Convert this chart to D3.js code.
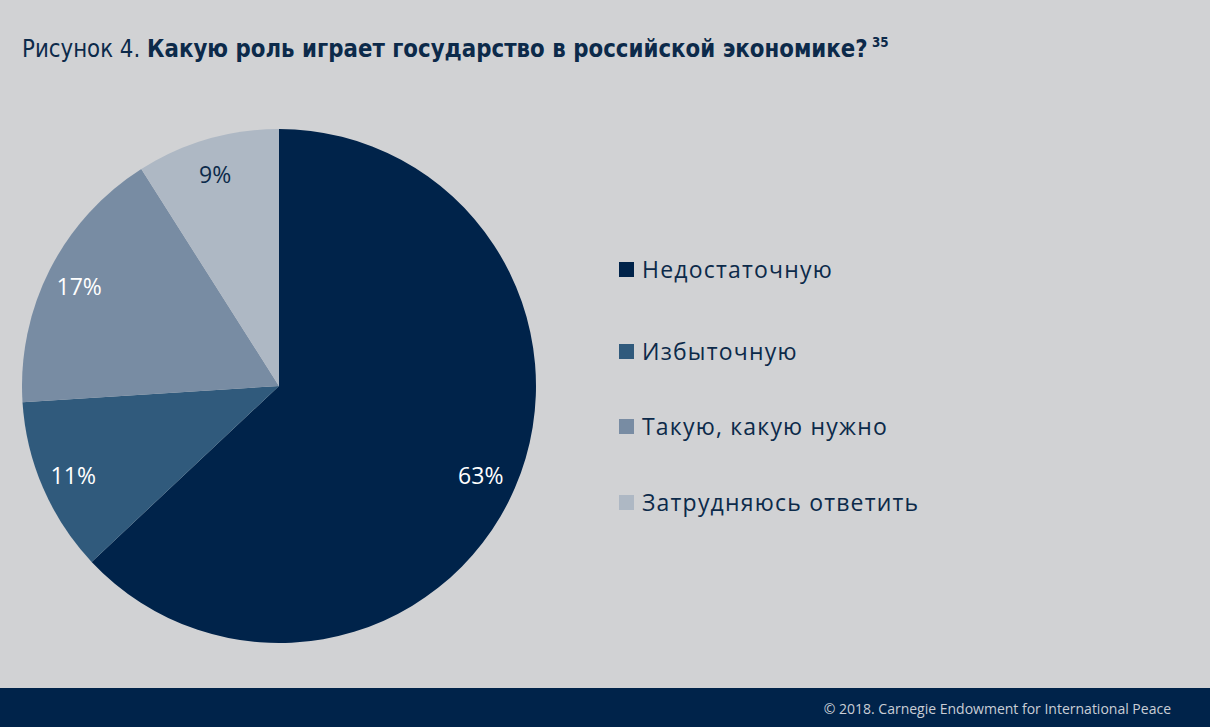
<!DOCTYPE html>
<html>
<head>
<meta charset="utf-8">
<script src="https://cdn.jsdelivr.net/npm/d3@7"></script>
<style>
  body { margin: 0; background: #d1d2d4; }
  svg { display: block; }
</style>
</head>
<body>
<svg id="chart"></svg>
<script>
'use strict';
// Chart data
var categories = ['Недостаточную', 'Избыточную', 'Такую, какую нужно', 'Затрудняюсь ответить'];
var values = [63, 11, 17, 9];
var labels = ['63%', '11%', '17%', '9%'];
var colors = ['#00234a', '#305a7c', '#788ca3', '#aeb8c4'];
var labelColors = ['#ffffff', '#ffffff', '#ffffff', '#0c2a4a'];

var canvasWidth = 1210;
var canvasHeight = 727;
var svg = d3.select('#chart')
  .attr('width', canvasWidth)
  .attr('height', canvasHeight);

svg.append('rect')
  .attr('width', canvasWidth)
  .attr('height', canvasHeight)
  .attr('fill', '#d1d2d4');

// Title (font is a bit wide, so squeeze it horizontally)
var title = svg.append('text')
  .attr('transform', 'translate(22,57) scale(0.95,1)')
  .attr('fill', '#0c2a4a')
  .style('font-family', '"Liberation Sans Narrow", "DejaVu Sans Condensed", sans-serif')
  .style('font-size', '25px');
title.append('tspan').style('font-weight', 300).text('Рисунок 4. ');
title.append('tspan').style('font-weight', 'bold').text('Какую роль играет государство в российской экономике?');
title.append('tspan').style('font-weight', 'bold').style('font-size', '14px')
  .attr('dy', -10).text(' 35');

// Pie
var cx = 279, cy = 386, radius = 257;
var pie = d3.pie().sort(null).value(function(d) { return d; });
var arc = d3.arc().innerRadius(0).outerRadius(radius);
var labelArc = d3.arc().innerRadius(222).outerRadius(222);
var arcs = pie(values);

var pieArea = svg.append('g')
  .attr('transform', 'translate(' + cx + ',' + cy + ')');

pieArea.selectAll('path').data(arcs)
  .enter().append('path')
  .attr('d', arc)
  .attr('fill', function(d, i) { return colors[i]; });

pieArea.selectAll('text.lbl').data(arcs)
  .enter().append('text')
  .attr('class', 'lbl')
  .attr('transform', function(d) {
    var c = labelArc.centroid(d);
    return 'translate(' + (c[0] - 2) + ',' + (c[1] + 2) + ')';
  })
  .attr('text-anchor', 'middle')
  .attr('dy', '0.36em')
  .attr('fill', function(d, i) { return labelColors[i]; })
  .style('font-family', '"Open Sans", "Noto Sans", sans-serif')
  .style('font-size', '23px')
  .text(function(d, i) { return labels[i]; });

// Legend
var legendY = d3.scaleOrdinal().domain(categories).range([270, 352, 427, 503]);
var legend = svg.append('g');
var items = legend.selectAll('g').data(categories)
  .enter().append('g')
  .attr('transform', function(d) { return 'translate(619,' + legendY(d) + ')'; });
items.append('rect')
  .attr('x', 0).attr('y', -8)
  .attr('width', 15).attr('height', 15)
  .attr('fill', function(d, i) { return colors[i]; });
items.append('text')
  .attr('x', 23)
  .attr('dy', '0.36em')
  .attr('fill', '#0c2a4a')
  .style('font-family', '"Open Sans", "Noto Sans", sans-serif')
  .style('font-size', '23px')
  .style('letter-spacing', '1.2px')
  .text(function(d) { return d; });

// Footer bar
svg.append('rect')
  .attr('x', 0).attr('y', 688)
  .attr('width', canvasWidth).attr('height', canvasHeight - 688)
  .attr('fill', '#00234a');
svg.append('text')
  .attr('x', 1171)
  .attr('y', 714)
  .attr('text-anchor', 'end')
  .attr('fill', '#c9ced6')
  .style('font-family', '"Open Sans", "Noto Sans", sans-serif')
  .style('font-size', '14px')
  .text('© 2018. Carnegie Endowment for International Peace');
</script>
</body>
</html>
